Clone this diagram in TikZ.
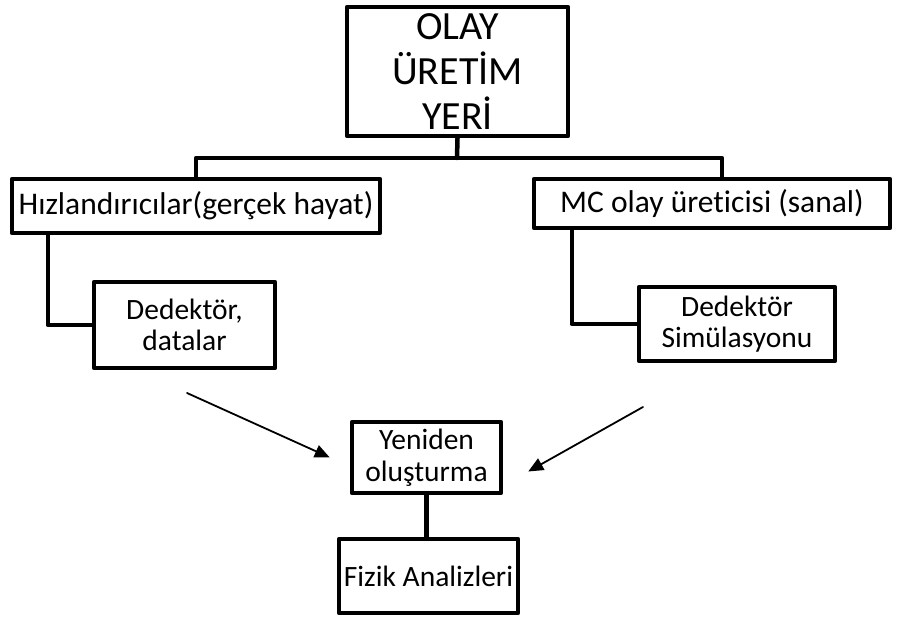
\documentclass[tikz,border=0pt]{standalone}
\usepackage{fontspec}
\setmainfont{Carlito}[Ligatures=NoCommon]
\usetikzlibrary{arrows.meta}
\tikzset{
	kutu/.style={draw, line width=4.5pt, line join=round, align=center, inner sep=0pt},
	buyuk/.style={font=\fontsize{40}{45}\selectfont},
	orta/.style={font=\fontsize{31.5}{36}\selectfont},
	kucuk/.style={font=\fontsize{29.5}{31.5}\selectfont},
	bag/.style={line width=4.5pt, line join=round},
	ok/.style={line width=1.8pt, -{Triangle[length=15pt,width=13pt]}}
}
\begin{document}
\begin{tikzpicture}[x=1pt,y=-1pt,line cap=round]
	\useasboundingbox (0,0) rectangle (902,617);
	% kutular
	\node[kutu, buyuk, minimum width=221, minimum height=129] (olay) at (457.5,71.5) {OLAY\\ ÜRETİM\\ YERİ};
	\node[kutu, orta, minimum width=368, minimum height=54] (hiz) at (196,206) {Hızlandırıcılar(gerçek hayat)};
	\node[kutu, orta, minimum width=356, minimum height=49] (mc) at (712,203.5) {MC olay üreticisi (sanal)};
	\node[kutu, kucuk, minimum width=181, minimum height=86] (ded1) at (184.5,325) {Dedektör,\\ datalar};
	\node[kutu, kucuk, minimum width=196, minimum height=74] (ded2) at (737,324) {Dedektör\\ Simülasyonu};
	\node[kutu, kucuk, minimum width=149, minimum height=71] (yeni) at (426.5,457.5) {Yeniden\\ oluşturma};
	\node[kutu, kucuk, minimum width=179, minimum height=74] (fizik) at (428.5,576) {Fizik Analizleri};
	% baglantilar
	\coordinate (ayrim) at (457,158);
	\draw[bag] (olay.south) -- (ayrim);
	\draw[bag] (hiz.north) |- (ayrim) -| ([xshift=10pt]mc.north);
	\draw[bag] ([xshift=38pt]hiz.south west) |- (ded1.west);
	\draw[bag] ([xshift=40pt]mc.south west) |- (ded2.west);
	\draw[bag] (yeni.south) -- (yeni.south |- fizik.north);
	% oklar
	\coordinate (solbas) at (187,393);
	\coordinate (sagbas) at (643,407);
	\draw[ok] (solbas) -- ([xshift=-20pt]yeni.west);
	\draw[ok] (sagbas) -- ([shift={(25pt,-14pt)}]yeni.east);
\end{tikzpicture}
\end{document}
